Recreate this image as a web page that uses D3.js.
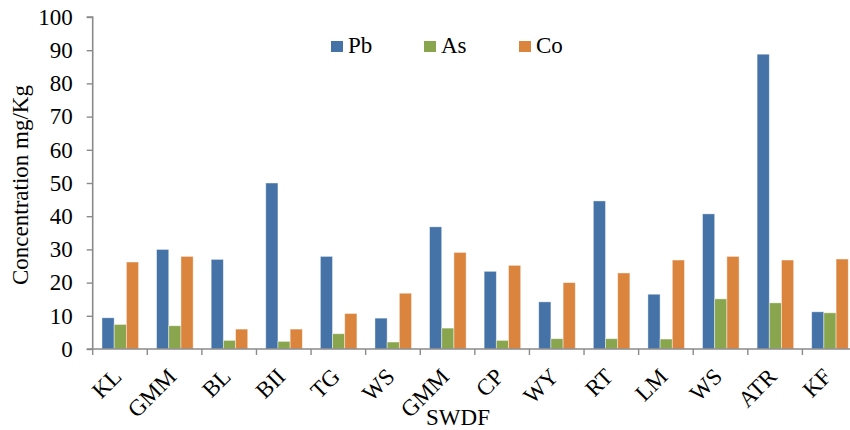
<!DOCTYPE html>
<html>
<head>
<meta charset="utf-8">
<script src="https://cdn.jsdelivr.net/npm/d3@7"></script>
<style>
  html, body { margin: 0; padding: 0; background: #fff; }
  svg { display: block; }
  text { font-family: "Liberation Serif", "Times New Roman", serif; fill: #000; }
</style>
</head>
<body>
<svg id="chart" width="850" height="430"></svg>
<script>
const categories = ["KL", "GMM", "BL", "BII", "TG", "WS", "GMM", "CP", "WY", "RT", "LM", "WS", "ATR", "KF"];
const seriesNames = ["Pb", "As", "Co"];
const pbValues = [9.4, 30.0, 27.0, 50.0, 27.9, 9.3, 36.8, 23.4, 14.2, 44.6, 16.5, 40.7, 88.8, 11.2];
const asValues = [7.4, 7.0, 2.6, 2.3, 4.6, 2.1, 6.3, 2.6, 3.1, 3.1, 3.0, 15.1, 13.9, 10.9];
const coValues = [26.2, 27.9, 6.0, 6.0, 10.7, 16.8, 29.1, 25.2, 20.0, 22.9, 26.8, 27.9, 26.8, 27.1];
const yTicks = [0, 10, 20, 30, 40, 50, 60, 70, 80, 90, 100];
const colors = ["#4572A7", "#89A54E", "#DB843D"];
const yTitle = "Concentration mg/Kg";
const xTitle = "SWDF";

(function () {
const seriesValues = [pbValues, asValues, coValues];
const svg = d3.select("#chart");
const mLeft = 92.7, mRight = 857, mTop = 17, mBottom = 349;
const axisColor = "#8a8a8a";
const fs = 23;

const x = d3.scaleBand().domain(d3.range(categories.length)).range([mLeft, mRight]).paddingInner(0).paddingOuter(0);
const bw = x.bandwidth();
const x1 = d3.scaleBand().domain(seriesNames).range([bw * 0.17, bw * 0.84]).padding(0);
const y = d3.scaleLinear().domain([0, 100]).range([mBottom, mTop]);

// bars
const g = svg.append("g");
categories.forEach((c, i) => {
  seriesNames.forEach((s, j) => {
    const v = seriesValues[j][i];
    g.append("rect")
      .attr("x", x(i) + x1(s))
      .attr("y", y(v))
      .attr("width", x1.bandwidth())
      .attr("height", y(0) - y(v))
      .attr("fill", colors[j])
      .attr("stroke", "rgba(255,255,255,0.55)")
      .attr("stroke-width", 0.8);
  });
});

// y axis
const yAxis = svg.append("g")
  .attr("transform", `translate(${mLeft},0)`)
  .call(d3.axisLeft(y).tickValues(yTicks).tickSize(6).tickPadding(14).tickFormat(d3.format("d")));
yAxis.attr("font-family", null);
yAxis.select(".domain").attr("stroke", axisColor).attr("stroke-width", 1.6).attr("d", `M-6,${mTop}H0V${mBottom}`);
yAxis.selectAll(".tick line").attr("stroke", axisColor).attr("stroke-width", 1.4);
yAxis.selectAll(".tick text").attr("font-size", fs).attr("fill", "#000");

// x axis line
svg.append("line")
  .attr("x1", mLeft - 6).attr("x2", mRight)
  .attr("y1", mBottom).attr("y2", mBottom)
  .attr("stroke", axisColor).attr("stroke-width", 1.6);
// boundary ticks
const bounds = d3.range(categories.length + 1).map(i => i < categories.length ? x(i) : x.range()[1]);
svg.append("g").selectAll("line").data(bounds).join("line")
  .attr("x1", d => d).attr("x2", d => d)
  .attr("y1", mBottom).attr("y2", mBottom + 6)
  .attr("stroke", axisColor).attr("stroke-width", 1.4);

// x labels rotated
svg.append("g").selectAll("text").data(d3.range(categories.length)).join("text")
  .attr("transform", i => `translate(${x(i) + bw / 2 + 3},${mBottom + 29}) rotate(-45)`)
  .attr("text-anchor", "end")
  .attr("font-size", fs)
  .text(i => categories[i]);

// y title
svg.append("text")
  .attr("transform", `translate(28,${(mTop + mBottom) / 2 + 2}) rotate(-90)`)
  .attr("text-anchor", "middle")
  .attr("font-size", fs)
  .text(yTitle);

// x title
svg.append("text")
  .attr("x", 458).attr("y", 425)
  .attr("text-anchor", "middle")
  .attr("font-size", fs)
  .text(xTitle);

// legend
const legendX = [331, 424, 519];
const legend = svg.append("g");
seriesNames.forEach((s, j) => {
  legend.append("rect")
    .attr("x", legendX[j]).attr("y", 41)
    .attr("width", 12).attr("height", 11)
    .attr("fill", colors[j]);
  legend.append("text")
    .attr("x", legendX[j] + 17).attr("y", 53)
    .attr("font-size", fs)
    .text(s);
});
})();
</script>
</body>
</html>
